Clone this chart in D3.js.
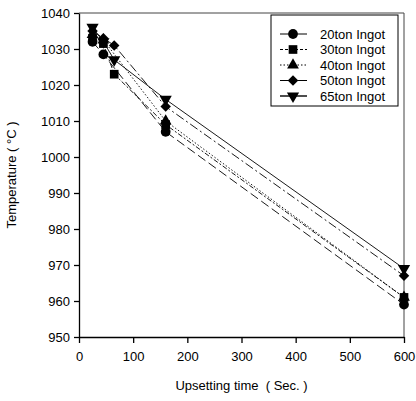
<!DOCTYPE html>
<html lang="en">
<head>
    <meta charset="UTF-8">
    <title>Upsetting time vs temperature</title>
    <script src="https://d3js.org/d3.v7.min.js"></script>
    <style>
        body { margin: 0; background: #fff; font-family: Arial, "Liberation Sans", sans-serif; }
        svg text { fill: #000; }
    </style>
</head>
<body>
    <div id="chart"></div>
    <script>
        // Data
        const seriesNames = ["20ton Ingot", "30ton Ingot", "40ton Ingot", "50ton Ingot", "65ton Ingot"];
        const times20 = [25, 45, 160, 600];
        const temps20 = [1032, 1028.5, 1007, 959];
        const times30 = [25, 45, 65, 160, 600];
        const temps30 = [1033, 1031.5, 1023, 1009, 961];
        const times40 = [25, 45, 160, 600];
        const temps40 = [1034, 1032.5, 1010, 961];
        const times50 = [25, 45, 65, 160, 600];
        const temps50 = [1035, 1033, 1031, 1014, 967];
        const times65 = [25, 45, 65, 160, 600];
        const temps65 = [1036, 1032, 1027, 1016, 969];
        const xTicks = [0, 100, 200, 300, 400, 500, 600];
        const yTicks = [950, 960, 970, 980, 990, 1000, 1010, 1020, 1030, 1040];

        const allTimes = [times20, times30, times40, times50, times65];
        const allTemps = [temps20, temps30, temps40, temps50, temps65];
        const series = seriesNames.map((name, i) => ({
            name: name,
            points: allTimes[i].map((t, j) => ({ t: t, v: allTemps[i][j] }))
        }));

        const width = 416, height = 401;
        const margin = { top: 13, right: 12, bottom: 64, left: 79 };
        const font = "13px";

        const svg = d3.select("#chart").append("svg")
            .attr("width", width)
            .attr("height", height);

        const x = d3.scaleLinear().domain([0, 600]).range([margin.left, width - margin.right]);
        const y = d3.scaleLinear().domain([950, 1040]).range([height - margin.bottom, margin.top]);

        // plot frame (top and right)
        svg.append("path")
            .attr("d", `M${x(0)},${y(1040)}H${x(600)}V${y(950)}`)
            .attr("fill", "none")
            .attr("stroke", "#444")
            .attr("stroke-width", 1);

        const xAxis = svg.append("g")
            .attr("transform", `translate(0,${y(950)})`)
            .call(d3.axisBottom(x).tickValues(xTicks).tickFormat(d3.format("d"))
                .tickSize(6).tickSizeOuter(0).tickPadding(9));
        const yAxis = svg.append("g")
            .attr("transform", `translate(${x(0)},0)`)
            .call(d3.axisLeft(y).tickValues(yTicks).tickFormat(d3.format("d"))
                .tickSize(5).tickSizeOuter(0).tickPadding(4));
        [xAxis, yAxis].forEach(a => {
            a.selectAll("text").style("font-size", font).style("font-family", "Arial, 'Liberation Sans', sans-serif");
            a.selectAll("line, path").attr("stroke", "#000").attr("stroke-width", 1.3);
        });

        // axis titles
        svg.append("text")
            .attr("x", (x(0) + x(600)) / 2)
            .attr("y", 390)
            .attr("text-anchor", "middle")
            .style("font-size", font)
            .style("white-space", "pre")
            .text("Upsetting time  ( Sec. )");
        svg.append("text")
            .attr("transform", `translate(16,${y(995)}) rotate(-90)`)
            .attr("text-anchor", "middle")
            .style("font-size", font)
            .text("Temperature ( \u00B0C )");

        const dashes = ["9,4", "5,2,2,2", "1.5,2", "9,3,2,3", null];
        const symbols = [d3.symbolCircle, d3.symbolSquare, d3.symbolTriangle, d3.symbolSquare, d3.symbolTriangle];
        const sizes = [75, 75, 60, 55, 65];
        const rotations = [0, 0, 0, 45, 180];

        const line = d3.line().x(d => x(d.t)).y(d => y(d.v));

        series.forEach((s, i) => {
            svg.append("path")
                .datum(s.points)
                .attr("d", line)
                .attr("fill", "none")
                .attr("stroke", "#000")
                .attr("stroke-width", 0.9)
                .attr("stroke-dasharray", dashes[i]);
        });
        series.forEach((s, i) => {
            svg.selectAll(null)
                .data(s.points)
                .enter().append("path")
                .attr("d", d3.symbol().type(symbols[i]).size(sizes[i]))
                .attr("transform", d => `translate(${x(d.t)},${y(d.v)}) rotate(${rotations[i]})`)
                .attr("fill", "#000");
        });

        // legend
        const legend = svg.append("g").attr("transform", "translate(271,15)");
        legend.append("rect")
            .attr("width", 127)
            .attr("height", 91)
            .attr("fill", "#fff")
            .attr("stroke", "#000")
            .attr("stroke-width", 1);
        const legendDash = ["none", "3,2", "1.5,2", null, null];
        const items = legend.selectAll(".item")
            .data(series)
            .enter().append("g")
            .attr("class", "item")
            .attr("transform", (d, i) => `translate(0,${19 + i * 15.5})`);
        items.append("line")
            .attr("x1", 9).attr("x2", 36)
            .attr("stroke", "#000")
            .attr("stroke-width", (d, i) => i === 4 ? 1.4 : 1)
            .attr("stroke-dasharray", (d, i) => legendDash[i]);
        items.append("path")
            .attr("d", (d, i) => d3.symbol().type(symbols[i]).size(sizes[i])())
            .attr("transform", (d, i) => `translate(22,0) rotate(${rotations[i]})`)
            .attr("fill", "#000");
        items.append("text")
            .attr("x", 49)
            .attr("dy", "0.35em")
            .style("font-size", font)
            .text(d => d.name);
    </script>
</body>
</html>
